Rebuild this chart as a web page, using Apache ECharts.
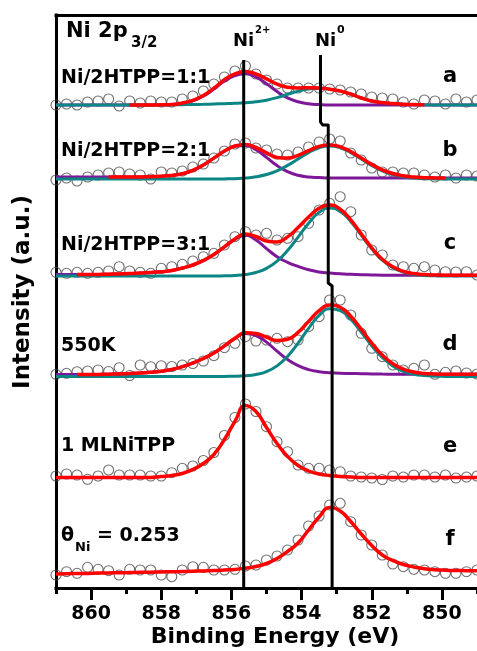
<!DOCTYPE html>
<html>
<head>
<meta charset="utf-8">
<script src="https://cdn.jsdelivr.net/npm/echarts@6/dist/echarts.min.js"></script>
<style>
html,body{margin:0;padding:0;background:#ffffff;overflow:hidden;}
#chart{width:477px;height:651px;}
</style>
</head>
<body>
<div id="chart"></div>
<script>
// Binding energies of the measured points (eV)
const energies = [861.0, 860.7, 860.4, 860.1, 859.8, 859.5, 859.2, 858.9, 858.6, 858.3,
  858.0, 857.7, 857.4, 857.1, 856.8, 856.5, 856.2, 855.9, 855.6, 855.3,
  855.0, 854.7, 854.4, 854.1, 853.8, 853.5, 853.2, 852.9, 852.6, 852.3,
  852.0, 851.7, 851.4, 851.1, 850.8, 850.5, 850.2, 849.9, 849.6, 849.3, 849.0];

const majorTicks = [850, 852, 854, 856, 858, 860];
const minorTicks = [849, 851, 853, 855, 857, 859, 861];

const letters = ['a', 'b', 'c', 'd', 'e', 'f'];
const sampleNames = ['Ni/2HTPP=1:1', 'Ni/2HTPP=2:1', 'Ni/2HTPP=3:1', '550K', '1 MLNiTPP'];

// vertical offsets of the stacked spectra (a.u.)
const offsets = [483, 409, 312, 211.5, 110.5, 14];

// measured intensities (a.u., above each spectrum's offset)
const dataA = [0, 1, 0, 3, 4, 6, -1, 4, 2, 4, 3, 3, 6, 9, 14, 21, 28, 34, 39, 31, 25, 21, 17, 17, 17, 17, 16, 15, 13, 11, 8, 7, 6, 3, 1, 5, 4, 1, 6, 3, 5];
const dataB = [-1, 1, -2, 2, 4, 6, 7, 5, 4, 0, 7, 6, 8, 12, 15, 21, 28, 35, 36, 31, 29, 25, 24, 27, 32, 37, 40, 38, 26, 19, 11, 7, 7, 6, 6, 4, 2, 4, 1, 4, 3];
const dataC = [3.7, 2.7, 3.7, 2.7, 3.7, 5, 9.3, 5, 3.7, 2.7, 7.7, 9.3, 11.7, 15, 19.3, 22.7, 31, 39.3, 44.3, 41, 42.7, 36, 37.7, 39.3, 52.7, 66, 72.7, 79.3, 64.3, 41, 26, 21, 11, 9.3, 7.7, 9.3, 6, 4.3, 4, 4.3, 1];
const dataD = [2.2, 3.2, 4.8, 5.5, 6.5, 5, 8.8, 1, 11.5, 9.8, 10.8, 10, 11.5, 13, 15.5, 20.8, 28.8, 33.2, 39.8, 35.5, 36.5, 38.2, 34.8, 36.5, 49.8, 59.8, 76.5, 76.5, 61.5, 43.2, 28.2, 19.8, 11.5, 6.5, 8.2, 11.5, 2.2, 4.2, 5.5, 3.5, 2.5];
const dataE = [1.5, 3.5, 2.5, -1.8, 1.5, 7.5, 2.5, 2.5, 2.5, 1.5, 1.5, 4.8, 9.2, 11.5, 17, 25, 42, 60, 73.5, 66, 50.8, 35.8, 25.8, 12.5, 9.2, 9.2, 7.5, 5.8, 1.5, 0.5, -0.5, -2, 1.5, 0.5, 2.5, 2.5, 0.5, 2.5, -0.5, 0.5, 1.5];
const dataF = [-1, 2.3, 0.7, 6.7, 4.7, 3.3, -1, 4.7, 4, 4, -1, -2.7, 4, 7.3, 6.7, 4, 4, 4.7, 8, 9, 14, 18, 24, 34, 48, 58, 69, 70.7, 52.3, 39, 29, 19, 10, 7.3, 4.7, 4, 2.3, 0.7, 0.7, 2.3, 4];

// Ni2+ fitted component
const ni2A = [0, 0, 0, 0, 0, 0, 0, 0, 0, 0, 0.2, 0.5, 1.7, 4.2, 8.9, 15.9, 23.9, 29.5, 31.2, 27.8, 21.3, 13.4, 7.1, 3.2, 1.2, 0.4, 0, 0, 0, 0, 0, 0, 0, 0, 0, 0, 0, 0, 0, 0, 0];
const ni2B = [2, 2, 2, 2, 2, 2, 2, 2, 2, 2.3, 2.8, 3.6, 5.2, 8.6, 14, 20.9, 27.8, 32.7, 33.6, 29.3, 21.6, 13.4, 7.3, 3.7, 2.0, 1.4, 1, 1, 1, 1, 1, 1, 1, 1, 1, 1, 1, 1, 1, 1, 1];
const ni2C = [1.5, 1.5, 1.5, 1.5, 1.5, 1.8, 2.1, 2.4, 2.9, 3.5, 4.3, 5.5, 8, 11, 15.5, 21.5, 29, 36.5, 40.7, 36, 27.4, 19.3, 13.7, 9.6, 6.2, 4.1, 3.0, 2.2, 1.7, 1.3, 1.0, 0.8, 0.8, 0.8, 0.8, 0.8, 0.8, 0.8, 0.8, 0.8, 0.8];
const ni2D = [2, 2, 2, 2, 2, 2.3, 2.6, 3, 3.5, 4.3, 5.3, 7, 9.8, 13.5, 18, 23.5, 30.5, 38, 43, 41, 34.4, 25.3, 17.1, 10.9, 6.9, 4.8, 3.8, 3.2, 3.0, 2.8, 2.6, 2.4, 2.3, 2.2, 2.2, 2.2, 2.2, 2.2, 2.2, 2.2, 2.2];

// Ni0 fitted component
const ni0A = [0, 0, 0, 0, 0, 0, 0, 0, 0, 0, 0, 0, 0.3, 0.5, 0.7, 1.0, 1.3, 1.7, 2.3, 3.2, 4.8, 7.4, 10.7, 13.9, 16.1, 16.7, 15.8, 14, 11, 7, 4.0, 2.4, 1.4, 0.8, 0.4, 0.2, 0, 0, 0, 0, 0];
const ni0B = [0, 0, 0, 0, 0, 0, 0, 0, 0, 0, 0, 0, 0, 0, 0, 0, 0.1, 0.35, 0.9, 2.2, 4.5, 8.2, 13.6, 20, 26.4, 31.2, 33, 31.2, 26.4, 20, 13.6, 8.2, 4.5, 2.2, 0.9, 0.35, 0.1, 0, 0, 0, 0];
const ni0C = [0, 0, 0, 0, 0, 0, 0, 0, 0, 0, 0, 0, 0, 0, 0, 0, 0.2, 0.5, 1.4, 3.5, 7.6, 14.8, 25.4, 38.9, 52.8, 63.6, 68, 64.6, 54.5, 40.8, 27.1, 16, 8.4, 3.9, 1.6, 0.6, 0.2, 0, 0, 0, 0];
const ni0D = [0, 0, 0, 0, 0, 0, 0, 0, 0, 0, 0, 0, 0, 0, 0, 0, 0.1, 0.2, 0.7, 2.0, 4.9, 10.6, 20.1, 33.3, 48.2, 61.1, 67.7, 66, 57.3, 44.5, 30.8, 19.1, 10.5, 5.2, 2.3, 0.9, 0.35, 0.1, 0, 0, 0];

// total fitted envelope (null = not drawn)
const fitA = [null, null, null, null, null, null, null, 0, 0, 0, 0.2, 0.5, 2.0, 4.7, 9.6, 16.9, 25.2, 31.2, 33.5, 31, 26.1, 20.8, 17.8, 17.1, 17.3, 17.1, 15.8, 14, 11, 7, 4, 2.4, 1.4, 0.8, 0.4, 0.2, null, null, null, null, null];
const fitB = [null, null, null, null, null, 2, 2, 2, 2, 2.3, 2.8, 3.6, 5.2, 8.6, 14, 20.9, 27.9, 33.05, 34.5, 31.5, 26.1, 21.6, 20.9, 23.7, 28.4, 32.6, 34, 32.2, 27.4, 21, 14.6, 9.2, 5.5, 3.2, 1.9, 1.35, 1.1, 1.0, null, null, null];
const fitC = [null, null, 1.5, 1.5, 1.5, 1.8, 2.1, 2.4, 2.9, 3.5, 4.3, 5.5, 8, 11, 15.5, 21.5, 29.2, 37, 42.1, 39.5, 35, 34.1, 39.1, 48.5, 59, 67.7, 71, 66.8, 56.2, 42.1, 28.1, 16.8, 9.2, 4.7, 2.4, 1.4, 1.0, 0.8, 0.8, 0.8, 0.8];
const fitD = [null, null, 2, 2, 2, 2.3, 2.6, 3, 3.5, 4.3, 5.3, 7, 9.8, 13.5, 18, 23.5, 30.6, 38.2, 43.7, 43, 39.3, 35.9, 37.2, 44.2, 55.1, 65.9, 71.5, 69.2, 60.3, 47.3, 33.4, 21.5, 12.8, 7.4, 4.5, 3.1, 2.55, 2.3, 2.2, 2.2, 2.2];
const fitE = [0, 0, 0, 0, 0, 0, 0, 0, 0, 0, 1, 2, 4, 8, 14, 23, 38, 56, 72, 66, 50, 34, 21, 12, 6.5, 3.5, 2, 1, 0.5, 0, 0, 0, 0, 0, 0, 0, 0, 0, 0, 0, 0];
const fitF = [0, 0.3, 0.5, 0.6, 0.9, 1.0, 1.3, 1.4, 1.7, 1.8, 2.1, 2.2, 2.5, 2.7, 3.1, 3.4, 4.0, 4.6, 5.8, 7.5, 10.5, 15.5, 22.5, 31, 44, 57, 66.5, 63, 52.5, 40, 28.5, 19, 13.5, 9.5, 7, 5.2, 4.3, 3.8, 3.5, 3.3, 3.2];

// reference position lines [energy, height]
const ni2Line = [[855.65, 0], [855.65, 528]];
const ni0Line = [[853.46, 533], [853.46, 466], [853.40, 463], [853.24, 463], [853.24, 305], [853.13, 302], [853.13, 0]];

const dataSets = [dataA, dataB, dataC, dataD, dataE, dataF];
const ni2Sets = [ni2A, ni2B, ni2C, ni2D];
const ni0Sets = [ni0A, ni0B, ni0C, ni0D];
const fitSets = [fitA, fitB, fitC, fitD, fitE, fitF];

const RED = '#ff0000', PURPLE = '#7e1898', TEAL = '#0c8585';
const FONT = '"DejaVu Sans", "Liberation Sans", sans-serif';

function pairs(arr, off) {
  const out = [];
  arr.forEach((v, i) => { if (v !== null) out.push([energies[i], off + v]); });
  return out;
}

const series = [];
dataSets.forEach((arr, k) => {
  series.push({
    type: 'scatter', data: pairs(arr, offsets[k]), symbol: 'circle', symbolSize: 10,
    itemStyle: { color: 'rgba(255,255,255,0)', borderColor: '#4a4a4a', borderWidth: 1.1 },
    z: 1, silent: true
  });
});
function lineSeries(arr, off, color, width, z) {
  return { type: 'line', data: pairs(arr, off), showSymbol: false, smooth: 0.5,
    lineStyle: { color: color, width: width }, z: z, silent: true };
}
ni2Sets.forEach((arr, k) => series.push(lineSeries(arr, offsets[k], PURPLE, 3, 2)));
ni0Sets.forEach((arr, k) => series.push(lineSeries(arr, offsets[k], TEAL, 3, 3)));
fitSets.forEach((arr, k) => series.push(lineSeries(arr, offsets[k], RED, 3.5, 4)));
series.push({ type: 'line', data: ni2Line, showSymbol: false, lineStyle: { color: '#000', width: 3 }, z: 5, silent: true });
series.push({ type: 'line', data: ni0Line, showSymbol: false, lineStyle: { color: '#000', width: 3, join: 'round' }, z: 5, silent: true });

function txt(text, x, y, size, align, extra) {
  return Object.assign({
    type: 'text', x: x, y: y, z: 100,
    style: { text: text, fontFamily: FONT, fontWeight: 'bold', fontSize: size, fill: '#000',
      align: align || 'left', verticalAlign: 'middle' }
  }, extra || {});
}
const letterY = [77, 151, 244, 345, 447, 540];
const sampleY = [78, 151.5, 245, 346.5, 446.5];
const graphic = [];
letters.forEach((l, i) => graphic.push(txt(l, 450, letterY[i], 21, 'center')));
sampleNames.forEach((s, i) => graphic.push(txt(s, 61, sampleY[i], 19, 'left')));
graphic.push(txt('\u03b8', 61, 536, 19, 'left'));
graphic.push(txt('Ni', 75, 548, 13, 'left'));
graphic.push(txt('= 0.253', 97, 536, 19, 'left'));
graphic.push(txt('Ni 2p', 66, 32, 21, 'left'));
graphic.push(txt('3/2', 131, 43, 15, 'left'));
graphic.push(txt('Ni', 233, 41, 18, 'left'));
graphic.push(txt('2+', 255, 30, 10, 'left'));
graphic.push(txt('Ni', 315, 41, 18, 'left'));
graphic.push(txt('0', 337, 30, 11, 'left'));
graphic.push(txt('Binding Energy (eV)', 275, 637, 22, 'center'));
graphic.push(txt('Intensity (a.u.)', 23, 292, 23, 'center', { rotation: Math.PI / 2 }));

const frameLine = { show: true, lineStyle: { color: '#000', width: 3, cap: 'square' } };

const chart = echarts.init(document.getElementById('chart'), null, { renderer: 'canvas', width: 477, height: 651 });
chart.setOption({
  animation: false,
  backgroundColor: '#ffffff',
  grid: { left: 56, right: 0, top: 15, bottom: 63, outerBoundsMode: 'none', containLabel: false, show: false },
  xAxis: [
    { type: 'value', min: 849, max: 861, inverse: true, position: 'bottom',
      axisLine: frameLine,
      axisTick: { show: true, inside: false, length: 12, customValues: majorTicks, lineStyle: { color: '#000', width: 3 } },
      axisLabel: { show: true, customValues: majorTicks, margin: 17, color: '#000', fontFamily: FONT, fontWeight: 'bold', fontSize: 19 },
      splitLine: { show: false } },
    { type: 'value', min: 849, max: 861, inverse: true, position: 'bottom',
      axisLine: { show: false },
      axisTick: { show: true, inside: false, length: 6, customValues: minorTicks, lineStyle: { color: '#000', width: 3 } },
      axisLabel: { show: false }, splitLine: { show: false } },
    { type: 'value', min: 849, max: 861, inverse: true, position: 'top',
      axisLine: frameLine, axisTick: { show: false }, axisLabel: { show: false }, splitLine: { show: false } }
  ],
  yAxis: { type: 'value', min: 0, max: 573, position: 'left',
    axisLine: frameLine, axisTick: { show: false }, axisLabel: { show: false }, splitLine: { show: false } },
  series: series,
  graphic: graphic
});
</script>
</body>
</html>
